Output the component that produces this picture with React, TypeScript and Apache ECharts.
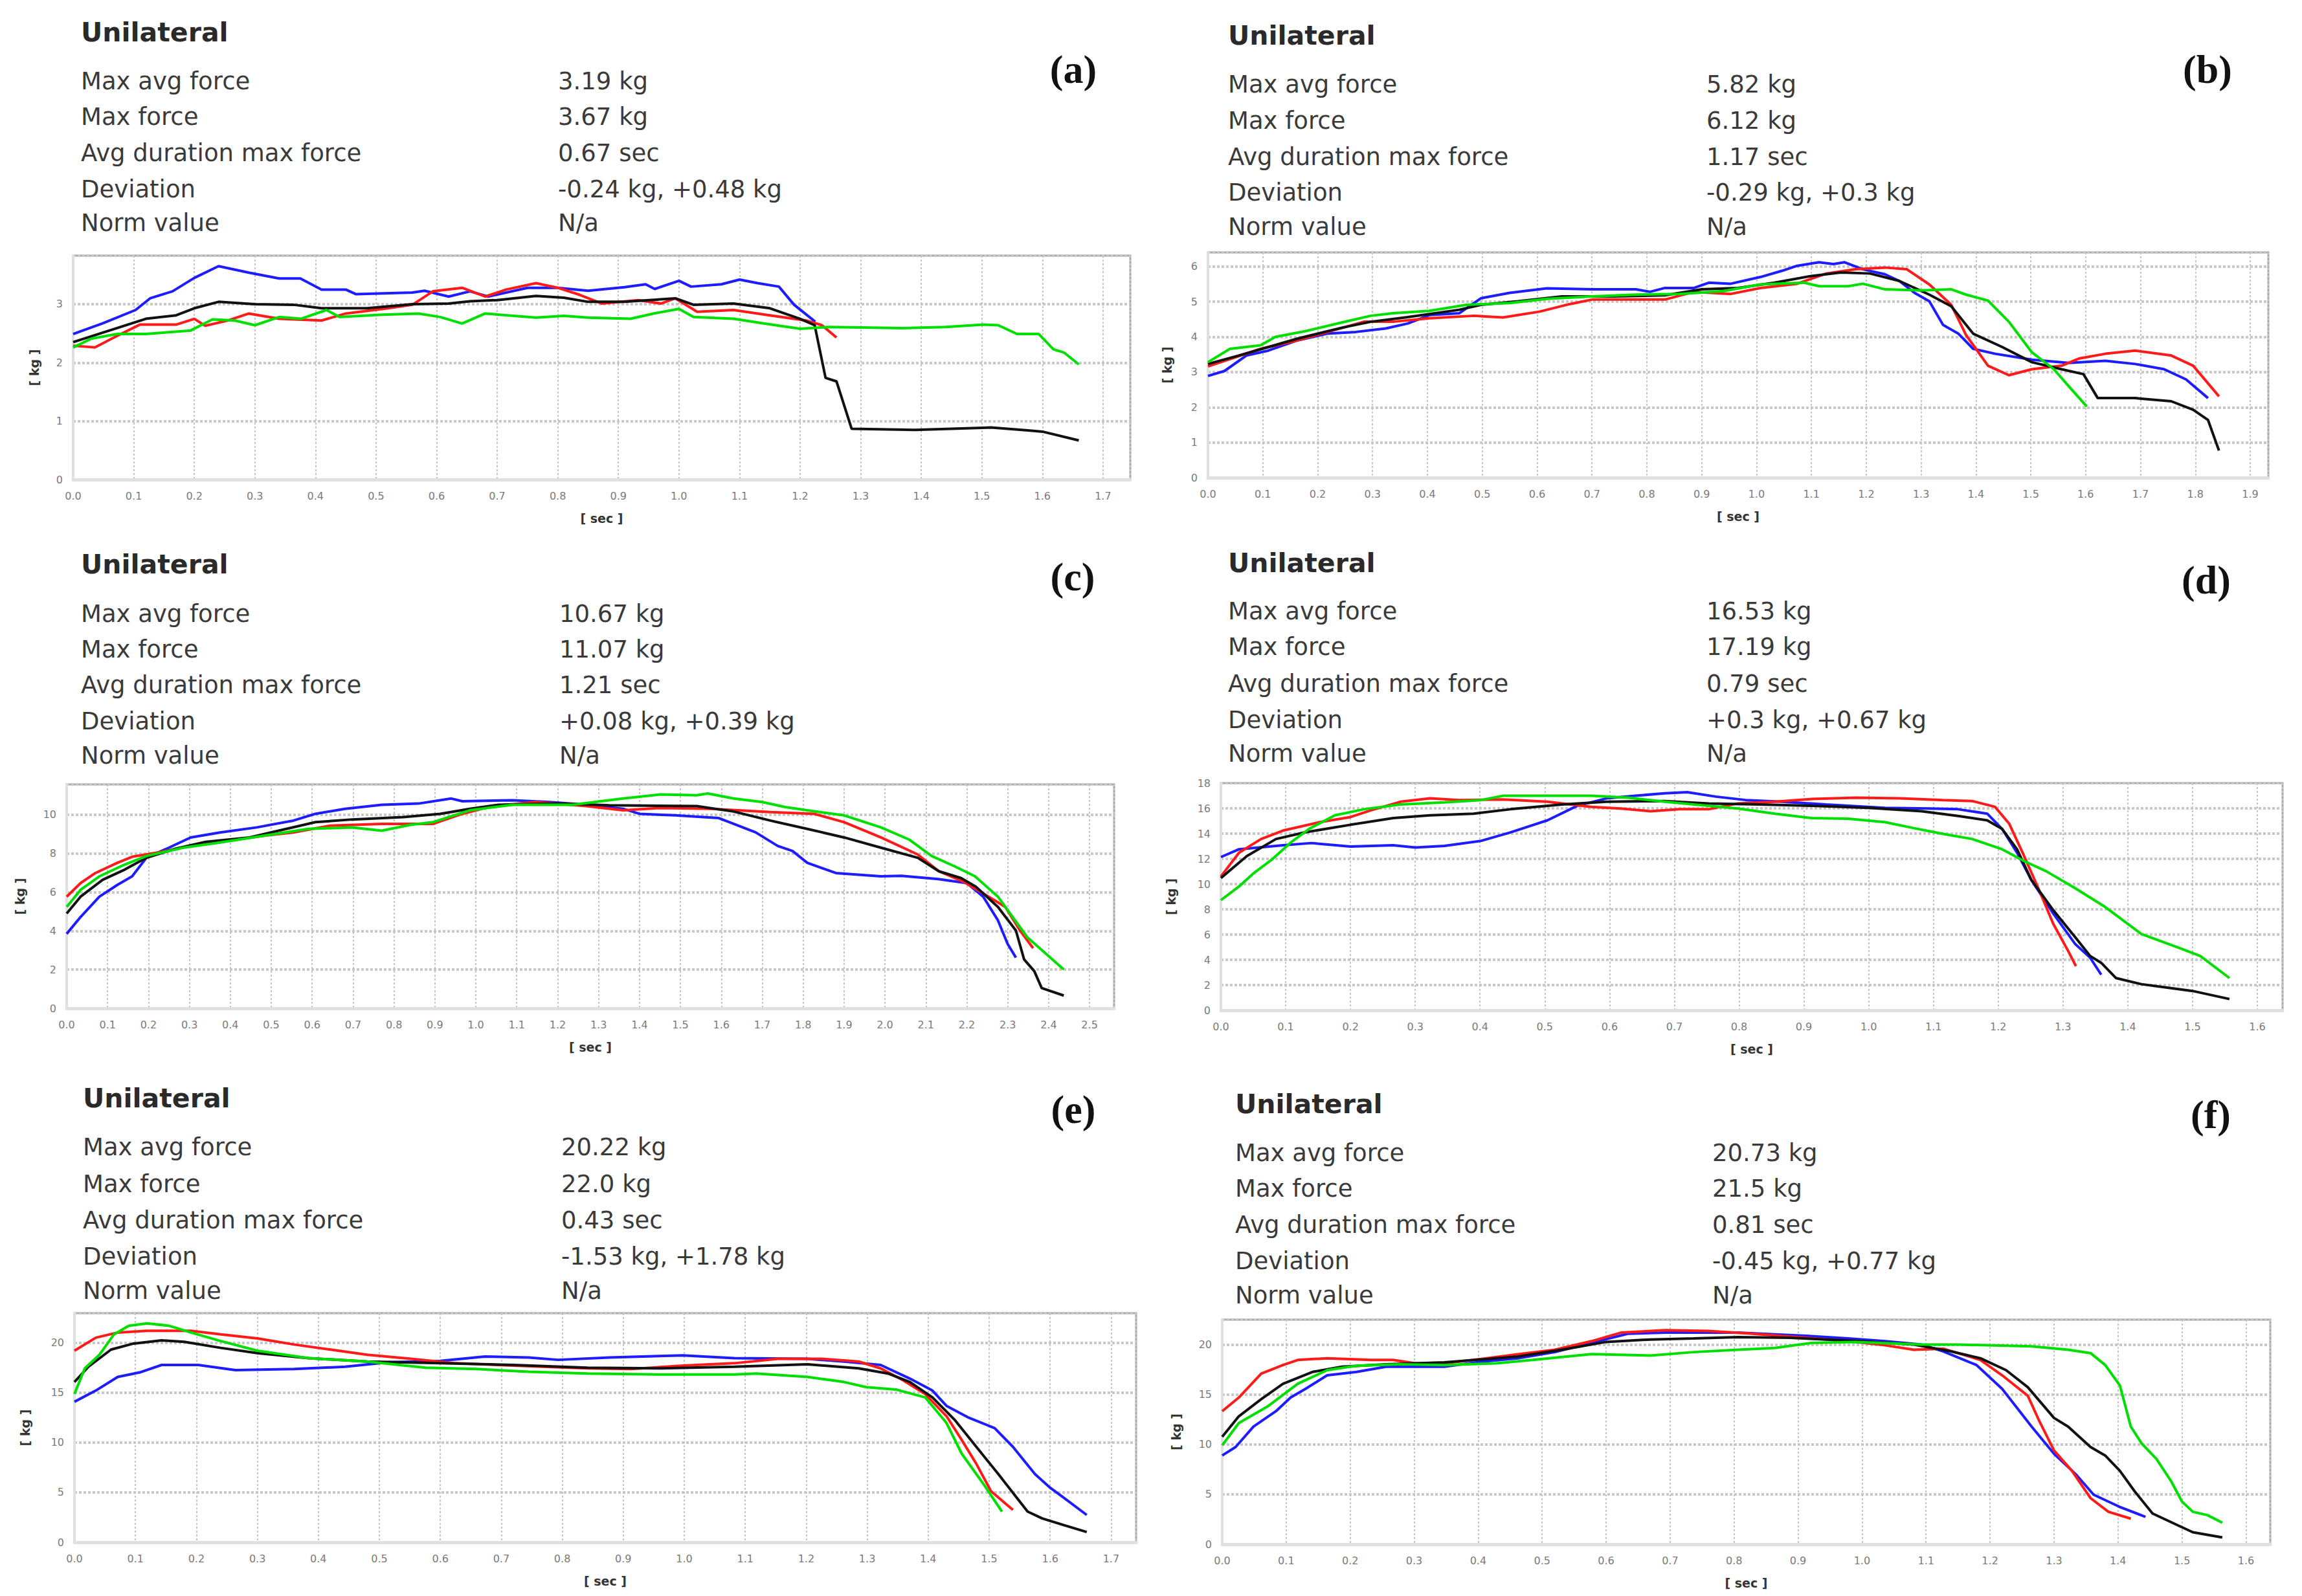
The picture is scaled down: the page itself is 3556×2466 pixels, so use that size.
import { useEffect, useRef } from "react";
import * as echarts from "echarts";

const rowLabels = ["Max avg force", "Max force", "Avg duration max force", "Deviation", "Norm value"];
const panelTags = ["(a)", "(b)", "(c)", "(d)", "(e)", "(f)"];
const panelValues = [
  ["3.19 kg", "3.67 kg", "0.67 sec", "-0.24 kg, +0.48 kg", "N/a"],
  ["5.82 kg", "6.12 kg", "1.17 sec", "-0.29 kg, +0.3 kg", "N/a"],
  ["10.67 kg", "11.07 kg", "1.21 sec", "+0.08 kg, +0.39 kg", "N/a"],
  ["16.53 kg", "17.19 kg", "0.79 sec", "+0.3 kg, +0.67 kg", "N/a"],
  ["20.22 kg", "22.0 kg", "0.43 sec", "-1.53 kg, +1.78 kg", "N/a"],
  ["20.73 kg", "21.5 kg", "0.81 sec", "-0.45 kg, +0.77 kg", "N/a"],
];
const xMax = [1.745, 1.933, 2.56, 1.639, 1.741, 1.638];
const yMax = [3.83, 6.4, 11.57, 18, 22.97, 22.5];
const yStep = [1, 1, 2, 2, 5, 5];

// (a)
const aBlue = [[0,2.49],[0.048,2.67],[0.103,2.9],[0.127,3.1],[0.164,3.22],[0.2,3.45],[0.24,3.65],[0.29,3.54],[0.34,3.44],[0.375,3.44],[0.41,3.25],[0.45,3.25],[0.467,3.17],[0.56,3.2],[0.58,3.23],[0.62,3.13],[0.655,3.22],[0.685,3.13],[0.75,3.28],[0.8,3.28],[0.85,3.23],[0.91,3.29],[0.945,3.34],[0.96,3.26],[1.0,3.4],[1.02,3.3],[1.07,3.34],[1.1,3.42],[1.13,3.36],[1.165,3.3],[1.19,2.99],[1.225,2.7]];
const aRed = [[0,2.29],[0.036,2.26],[0.073,2.46],[0.11,2.65],[0.17,2.65],[0.2,2.75],[0.218,2.63],[0.255,2.72],[0.29,2.84],[0.34,2.75],[0.41,2.72],[0.45,2.84],[0.52,2.93],[0.56,2.99],[0.594,3.22],[0.642,3.28],[0.68,3.13],[0.715,3.25],[0.764,3.36],[0.8,3.28],[0.836,3.16],[0.873,3.01],[0.933,3.07],[0.97,3.01],[0.994,3.1],[1.03,2.87],[1.09,2.9],[1.15,2.81],[1.21,2.72],[1.236,2.64],[1.26,2.43]];
const aBlack = [[0,2.35],[0.06,2.55],[0.12,2.75],[0.17,2.81],[0.2,2.93],[0.24,3.04],[0.3,3.0],[0.364,2.99],[0.41,2.93],[0.485,2.93],[0.56,3.0],[0.62,3.01],[0.655,3.05],[0.7,3.07],[0.764,3.14],[0.81,3.11],[0.85,3.04],[0.91,3.04],[0.994,3.1],[1.024,2.99],[1.09,3.01],[1.15,2.93],[1.2,2.75],[1.224,2.64],[1.242,1.74],[1.26,1.68],[1.285,0.87],[1.39,0.85],[1.515,0.89],[1.576,0.84],[1.6,0.82],[1.66,0.67]];
const aGreen = [[0,2.26],[0.03,2.41],[0.073,2.49],[0.12,2.49],[0.194,2.55],[0.23,2.74],[0.267,2.72],[0.3,2.64],[0.34,2.78],[0.376,2.75],[0.418,2.9],[0.44,2.78],[0.51,2.82],[0.57,2.84],[0.606,2.78],[0.642,2.67],[0.68,2.84],[0.764,2.77],[0.81,2.8],[0.85,2.77],[0.92,2.75],[0.958,2.84],[1.0,2.92],[1.024,2.78],[1.09,2.75],[1.14,2.67],[1.2,2.58],[1.248,2.61],[1.37,2.59],[1.44,2.61],[1.503,2.65],[1.527,2.64],[1.558,2.49],[1.594,2.49],[1.618,2.23],[1.636,2.17],[1.66,1.97]];

// (b)
const bBlue = [[0,2.89],[0.03,3.03],[0.07,3.47],[0.11,3.61],[0.163,3.9],[0.217,4.09],[0.27,4.14],[0.324,4.24],[0.364,4.38],[0.404,4.62],[0.458,4.67],[0.498,5.1],[0.55,5.25],[0.618,5.38],[0.7,5.35],[0.78,5.35],[0.806,5.28],[0.833,5.39],[0.886,5.39],[0.913,5.54],[0.953,5.51],[1.007,5.7],[1.047,5.88],[1.074,6.02],[1.114,6.12],[1.14,6.07],[1.16,6.12],[1.194,5.92],[1.234,5.78],[1.26,5.59],[1.288,5.25],[1.315,5.01],[1.34,4.34],[1.368,4.09],[1.395,3.66],[1.435,3.52],[1.502,3.35],[1.569,3.26],[1.636,3.32],[1.69,3.23],[1.743,3.08],[1.783,2.79],[1.823,2.26]];
const bRed = [[0,3.16],[0.04,3.37],[0.096,3.66],[0.163,3.9],[0.23,4.19],[0.284,4.43],[0.337,4.43],[0.404,4.53],[0.485,4.6],[0.538,4.55],[0.605,4.72],[0.659,4.93],[0.7,5.06],[0.752,5.06],[0.833,5.06],[0.886,5.28],[0.953,5.22],[1.007,5.39],[1.074,5.51],[1.127,5.8],[1.18,5.92],[1.234,5.97],[1.274,5.92],[1.315,5.49],[1.355,4.91],[1.382,4.05],[1.422,3.18],[1.46,2.91],[1.502,3.08],[1.556,3.18],[1.589,3.39],[1.636,3.52],[1.69,3.61],[1.756,3.47],[1.796,3.18],[1.843,2.31]];
const bBlack = [[0,3.23],[0.056,3.47],[0.11,3.71],[0.163,3.95],[0.244,4.26],[0.297,4.43],[0.364,4.56],[0.458,4.77],[0.498,4.91],[0.565,5.01],[0.645,5.15],[0.739,5.15],[0.833,5.18],[0.9,5.35],[0.966,5.39],[1.033,5.54],[1.1,5.73],[1.154,5.83],[1.207,5.8],[1.26,5.59],[1.315,5.2],[1.355,4.87],[1.395,4.09],[1.448,3.71],[1.502,3.28],[1.556,3.08],[1.596,2.94],[1.622,2.26],[1.69,2.26],[1.756,2.17],[1.796,1.93],[1.823,1.64],[1.843,0.77]];
const bGreen = [[0,3.28],[0.04,3.66],[0.096,3.76],[0.123,4.0],[0.177,4.16],[0.244,4.41],[0.297,4.6],[0.337,4.67],[0.404,4.74],[0.471,4.91],[0.55,4.96],[0.618,5.08],[0.7,5.15],[0.78,5.2],[0.86,5.22],[0.94,5.3],[1.007,5.49],[1.087,5.54],[1.114,5.44],[1.167,5.44],[1.194,5.51],[1.234,5.35],[1.3,5.32],[1.355,5.35],[1.382,5.2],[1.422,5.03],[1.46,4.43],[1.502,3.56],[1.542,3.08],[1.569,2.6],[1.602,2.02]];

// (c)
const cBlue = [[0,3.85],[0.034,4.72],[0.08,5.77],[0.124,6.38],[0.16,6.82],[0.195,7.78],[0.25,8.3],[0.303,8.83],[0.375,9.09],[0.465,9.35],[0.554,9.7],[0.608,10.05],[0.68,10.31],[0.77,10.52],[0.86,10.58],[0.94,10.84],[0.967,10.7],[1.09,10.75],[1.18,10.66],[1.27,10.52],[1.36,10.31],[1.4,10.05],[1.487,9.97],[1.594,9.83],[1.684,9.09],[1.738,8.39],[1.774,8.13],[1.81,7.52],[1.88,6.99],[1.99,6.82],[2.04,6.85],[2.13,6.68],[2.2,6.47],[2.24,5.77],[2.276,4.55],[2.3,3.32],[2.32,2.62]];
const cRed = [[0,5.77],[0.034,6.47],[0.07,6.99],[0.124,7.52],[0.16,7.83],[0.23,8.08],[0.303,8.39],[0.375,8.6],[0.482,8.92],[0.554,9.09],[0.644,9.44],[0.77,9.53],[0.895,9.53],[0.967,10.05],[1.04,10.45],[1.146,10.66],[1.27,10.45],[1.36,10.23],[1.45,10.35],[1.576,10.31],[1.72,10.14],[1.827,10.05],[1.9,9.62],[1.99,8.83],[2.08,7.95],[2.132,7.08],[2.19,6.56],[2.24,5.94],[2.294,5.24],[2.33,4.02],[2.362,3.11]];
const cBlack = [[0,4.9],[0.034,5.77],[0.088,6.64],[0.142,7.17],[0.195,7.78],[0.267,8.25],[0.34,8.6],[0.447,8.83],[0.518,9.18],[0.608,9.62],[0.698,9.76],[0.823,9.88],[0.913,10.05],[0.985,10.31],[1.056,10.52],[1.2,10.58],[1.325,10.49],[1.54,10.45],[1.63,10.17],[1.72,9.7],[1.81,9.27],[1.9,8.83],[1.99,8.3],[2.08,7.78],[2.132,7.08],[2.186,6.73],[2.222,6.29],[2.276,5.24],[2.32,4.02],[2.34,2.53],[2.365,1.92],[2.383,1.05],[2.437,0.66]];
const cGreen = [[0,5.24],[0.034,6.12],[0.08,6.82],[0.142,7.43],[0.195,7.87],[0.285,8.3],[0.375,8.57],[0.482,8.92],[0.59,9.27],[0.698,9.35],[0.77,9.18],[0.84,9.48],[0.895,9.62],[0.985,10.23],[1.09,10.52],[1.236,10.52],[1.36,10.84],[1.45,11.05],[1.54,11.01],[1.567,11.1],[1.63,10.84],[1.7,10.66],[1.756,10.4],[1.81,10.23],[1.9,9.97],[1.99,9.35],[2.06,8.71],[2.114,7.87],[2.17,7.34],[2.22,6.82],[2.276,5.77],[2.348,3.67],[2.437,2.01]];

// (d)
const dBlue = [[0,12.14],[0.028,12.76],[0.096,13.08],[0.14,13.25],[0.2,12.98],[0.266,13.08],[0.3,12.9],[0.345,13.03],[0.402,13.43],[0.447,14.1],[0.504,15.05],[0.55,16.2],[0.595,16.79],[0.64,17.0],[0.685,17.19],[0.72,17.28],[0.764,16.93],[0.81,16.66],[0.866,16.52],[0.934,16.31],[1.025,16.04],[1.093,15.99],[1.138,15.93],[1.183,15.58],[1.206,14.37],[1.229,12.49],[1.251,10.34],[1.285,7.66],[1.319,5.24],[1.342,4.16],[1.359,2.82]];
const dRed = [[0,10.61],[0.028,12.49],[0.062,13.57],[0.096,14.24],[0.153,14.91],[0.2,15.31],[0.232,15.85],[0.277,16.52],[0.323,16.79],[0.368,16.66],[0.436,16.71],[0.504,16.52],[0.572,16.12],[0.617,15.99],[0.663,15.77],[0.708,15.93],[0.753,15.93],[0.798,16.39],[0.855,16.52],[0.912,16.74],[0.98,16.85],[1.048,16.79],[1.115,16.66],[1.16,16.58],[1.195,16.12],[1.217,14.78],[1.24,12.22],[1.263,9.54],[1.285,6.85],[1.308,4.7],[1.32,3.49]];
const dBlack = [[0,10.48],[0.04,12.22],[0.085,13.57],[0.13,14.1],[0.2,14.7],[0.266,15.23],[0.323,15.45],[0.39,15.58],[0.447,15.93],[0.527,16.31],[0.595,16.52],[0.685,16.58],[0.753,16.39],[0.832,16.31],[0.912,16.2],[1.0,16.04],[1.082,15.77],[1.138,15.4],[1.183,15.05],[1.206,14.37],[1.229,12.76],[1.251,10.34],[1.285,7.93],[1.319,5.78],[1.342,4.3],[1.359,3.76],[1.382,2.55],[1.421,2.07],[1.5,1.53],[1.557,0.89]];
const dGreen = [[0,8.73],[0.028,9.81],[0.051,10.88],[0.079,11.96],[0.108,13.3],[0.136,14.37],[0.176,15.45],[0.221,15.93],[0.277,16.31],[0.345,16.47],[0.402,16.66],[0.436,17.0],[0.504,17.0],[0.572,17.0],[0.629,16.85],[0.685,16.52],[0.742,16.25],[0.798,15.99],[0.855,15.58],[0.912,15.23],[0.968,15.18],[1.025,14.91],[1.07,14.43],[1.115,13.97],[1.16,13.57],[1.206,12.76],[1.24,11.82],[1.274,11.02],[1.319,9.67],[1.365,8.19],[1.421,6.05],[1.478,4.97],[1.512,4.3],[1.557,2.55]];

// (e)
const eBlue = [[0,14.09],[0.035,15.21],[0.071,16.58],[0.107,17.03],[0.143,17.78],[0.203,17.78],[0.264,17.26],[0.36,17.37],[0.444,17.6],[0.516,18.05],[0.6,18.19],[0.673,18.63],[0.745,18.53],[0.793,18.29],[0.877,18.53],[0.998,18.74],[1.082,18.46],[1.202,18.39],[1.262,18.12],[1.322,17.78],[1.37,16.41],[1.407,15.21],[1.43,13.68],[1.467,12.48],[1.509,11.45],[1.539,9.57],[1.575,6.84],[1.6,5.47],[1.623,4.44],[1.66,2.74]];
const eRed = [[0,19.21],[0.035,20.51],[0.071,21.03],[0.119,21.2],[0.191,21.2],[0.24,20.85],[0.3,20.44],[0.36,19.83],[0.42,19.32],[0.48,18.8],[0.552,18.39],[0.625,17.95],[0.72,17.71],[0.841,17.44],[0.913,17.37],[0.998,17.71],[1.082,17.95],[1.154,18.39],[1.226,18.39],[1.286,18.12],[1.322,17.44],[1.359,16.24],[1.395,14.87],[1.43,12.65],[1.455,10.26],[1.479,7.86],[1.503,5.13],[1.539,3.25]];
const eBlack = [[0,16.07],[0.023,17.6],[0.06,19.32],[0.095,19.9],[0.143,20.24],[0.18,20.1],[0.24,19.49],[0.3,18.97],[0.384,18.46],[0.48,18.12],[0.6,17.95],[0.72,17.78],[0.841,17.5],[0.962,17.44],[1.082,17.6],[1.202,17.85],[1.286,17.44],[1.334,16.92],[1.37,16.07],[1.407,14.53],[1.443,12.31],[1.479,9.57],[1.515,6.84],[1.563,3.08],[1.587,2.39],[1.623,1.71],[1.66,1.03]];
const eGreen = [[0,14.87],[0.017,17.44],[0.041,18.8],[0.065,20.85],[0.089,21.71],[0.119,21.95],[0.155,21.71],[0.191,21.03],[0.24,20.17],[0.3,19.21],[0.384,18.46],[0.48,18.12],[0.576,17.5],[0.66,17.37],[0.745,17.09],[0.841,16.92],[0.962,16.82],[1.082,16.82],[1.118,16.92],[1.202,16.58],[1.262,16.07],[1.298,15.56],[1.347,15.32],[1.395,14.53],[1.43,11.97],[1.455,8.89],[1.491,5.81],[1.521,3.08]];

// (f)
const fBlue = [[0,8.89],[0.021,9.74],[0.049,11.79],[0.084,13.33],[0.107,14.7],[0.13,15.56],[0.164,16.92],[0.21,17.26],[0.256,17.78],[0.302,17.78],[0.347,17.78],[0.405,18.29],[0.462,18.63],[0.52,19.25],[0.577,20.17],[0.634,21.09],[0.692,21.2],[0.749,21.2],[0.806,21.2],[0.864,21.03],[0.921,20.85],[0.978,20.62],[1.036,20.34],[1.093,20.0],[1.127,19.32],[1.179,17.95],[1.219,15.56],[1.265,11.79],[1.3,9.06],[1.334,7.01],[1.362,4.96],[1.402,3.76],[1.443,2.74]];
const fRed = [[0,13.33],[0.026,14.7],[0.061,17.09],[0.095,17.95],[0.118,18.46],[0.164,18.63],[0.233,18.46],[0.267,18.46],[0.302,18.12],[0.347,18.12],[0.405,18.56],[0.462,19.04],[0.52,19.49],[0.577,20.34],[0.623,21.2],[0.692,21.44],[0.76,21.37],[0.829,21.09],[0.898,20.75],[0.978,20.34],[1.036,19.93],[1.081,19.49],[1.127,19.59],[1.185,18.46],[1.219,16.92],[1.259,14.87],[1.276,12.48],[1.3,9.4],[1.328,7.35],[1.357,4.62],[1.385,3.25],[1.42,2.56]];
const fBlack = [[0,10.77],[0.026,12.82],[0.061,14.53],[0.095,16.07],[0.141,17.26],[0.187,17.78],[0.256,18.02],[0.347,18.22],[0.462,18.8],[0.531,19.49],[0.6,20.27],[0.669,20.51],[0.737,20.62],[0.806,20.75],[0.886,20.68],[0.978,20.41],[1.081,20.0],[1.139,19.32],[1.185,18.63],[1.225,17.44],[1.259,15.73],[1.3,12.65],[1.322,11.79],[1.357,9.74],[1.38,8.89],[1.403,7.35],[1.426,5.3],[1.454,3.08],[1.494,1.88],[1.517,1.2],[1.563,0.68]];
const fGreen = [[0,9.91],[0.026,12.14],[0.072,13.85],[0.118,16.07],[0.164,17.44],[0.21,17.88],[0.279,18.02],[0.347,17.95],[0.428,18.12],[0.485,18.46],[0.577,19.04],[0.669,18.9],[0.737,19.25],[0.806,19.49],[0.864,19.66],[0.921,20.17],[0.99,20.27],[1.093,20.0],[1.15,20.0],[1.265,19.83],[1.322,19.49],[1.357,19.15],[1.38,17.95],[1.403,15.9],[1.42,11.79],[1.437,10.09],[1.46,8.55],[1.483,6.32],[1.5,4.27],[1.517,3.25],[1.54,2.91],[1.563,2.15]];

const panelSeries = [
  [aBlue, aRed, aBlack, aGreen],
  [bBlue, bRed, bBlack, bGreen],
  [cBlue, cRed, cBlack, cGreen],
  [dBlue, dRed, dBlack, dGreen],
  [eBlue, eRed, eBlack, eGreen],
  [fBlue, fRed, fBlack, fGreen],
];
const seriesColors = ["#1c1cff", "#ff1a1a", "#111111", "#00e000"];

// page positions (px) of each panel
const layout = [
  { l: 113, t: 395, r: 1746, b: 741, tx: 125, vx: 862, ty: 50, rows: [125, 180, 236, 292, 344], gx: 1658, gy: 107, kg: 51 },
  { l: 1866, t: 390, r: 3504, b: 738, tx: 1897, vx: 2636, ty: 55, rows: [130, 186, 242, 297, 350], gx: 3410, gy: 107, kg: 54 },
  { l: 103, t: 1212, r: 1721, b: 1558, tx: 125, vx: 864, ty: 872, rows: [948, 1003, 1058, 1114, 1167], gx: 1657, gy: 891, kg: 63 },
  { l: 1886, t: 1210, r: 3526, b: 1561, tx: 1897, vx: 2636, ty: 870, rows: [944, 999, 1056, 1112, 1164], gx: 3408, gy: 896, kg: 68 },
  { l: 115, t: 2029, r: 1755, b: 2383, tx: 128, vx: 867, ty: 1697, rows: [1772, 1829, 1885, 1941, 1994], gx: 1658, gy: 1714, kg: 67 },
  { l: 1888, t: 2039, r: 3507, b: 2386, tx: 1908, vx: 2645, ty: 1706, rows: [1781, 1836, 1892, 1948, 2001], gx: 3415, gy: 1722, kg: 62 },
];

const txt = (text: string, x: number, y: number, font: string, fill: string, align = "left") => ({
  type: "text",
  silent: true,
  style: { text, x, y, font, fill, align, verticalAlign: "middle", textAlign: align, textVerticalAlign: "middle" },
});

const App = () => {
  const chartRef = useRef<HTMLDivElement>(null);

  useEffect(() => {
    if (!chartRef.current) return;
    const chart = echarts.init(chartRef.current, null, { renderer: "svg" });

    const grids: any[] = [];
    const xAxes: any[] = [];
    const yAxes: any[] = [];
    const series: any[] = [];
    const graphics: any[] = [];

    layout.forEach((p, i) => {
      grids.push({
        left: p.l,
        top: p.t,
        width: p.r - p.l,
        height: p.b - p.t,
        show: true,
        borderColor: "#a9a9a9",
        borderWidth: 3,
        backgroundColor: "#ffffff",
      });
      xAxes.push({
        type: "value",
        gridIndex: i,
        min: 0,
        max: xMax[i],
        interval: 0.1,
        offset: 10,
        name: "[ sec ]",
        nameLocation: "middle",
        nameGap: 40,
        nameTextStyle: { fontFamily: "DejaVu Sans", fontSize: 19, fontWeight: "bold", color: "#333" },
        axisLine: { show: true, lineStyle: { color: "#e0e0e0", width: 5 } },
        axisTick: { show: false },
        axisLabel: {
          showMaxLabel: false,
          margin: 7,
          fontFamily: "DejaVu Sans",
          fontSize: 16,
          color: "#7a7a7a",
          formatter: (v: number) => v.toFixed(1),
        },
        splitLine: { show: true, lineStyle: { color: "#c4c4c4", width: 2, type: [3, 3] } },
      });
      yAxes.push({
        type: "value",
        gridIndex: i,
        min: 0,
        max: yMax[i],
        interval: yStep[i],
        offset: 8,
        name: "[ kg ]",
        nameLocation: "middle",
        nameRotate: 90,
        nameGap: p.kg - 8,
        nameTextStyle: { fontFamily: "DejaVu Sans", fontSize: 19, fontWeight: "bold", color: "#333" },
        axisLine: { show: true, lineStyle: { color: "#e0e0e0", width: 4 } },
        axisTick: { show: false },
        axisLabel: {
          showMaxLabel: yMax[i] % yStep[i] === 0,
          margin: 8,
          fontFamily: "DejaVu Sans",
          fontSize: 16,
          color: "#7a7a7a",
        },
        splitLine: { show: true, lineStyle: { color: "#c8c8c8", width: 4, type: [4, 3] } },
      });
      panelSeries[i].forEach((data, k) => {
        series.push({
          type: "line",
          xAxisIndex: i,
          yAxisIndex: i,
          data,
          showSymbol: false,
          symbol: "none",
          silent: true,
          z: 3 + k,
          lineStyle: { color: seriesColors[k], width: 4 },
          itemStyle: { color: seriesColors[k] },
        });
      });

      graphics.push(txt("Unilateral", p.tx, p.ty, 'bold 41px "DejaVu Sans"', "#2a2a2a"));
      rowLabels.forEach((lab, r) => {
        graphics.push(txt(lab, p.tx, p.rows[r], '37px "DejaVu Sans"', "#3a3a3a"));
        graphics.push(txt(panelValues[i][r], p.vx, p.rows[r], '37px "DejaVu Sans"', "#3a3a3a"));
      });
      graphics.push(txt(panelTags[i], p.gx, p.gy, 'bold 62px "Liberation Serif"', "#111", "center"));
    });

    chart.setOption({
      animation: false,
      backgroundColor: "#ffffff",
      grid: grids,
      xAxis: xAxes,
      yAxis: yAxes,
      series,
      graphic: graphics,
    });

    return () => {
      chart.dispose();
    };
  }, []);

  return (
    <div
      ref={chartRef}
      style={{ position: "absolute", left: 0, top: 0, width: "3556px", height: "2466px" }}
    ></div>
  );
};

export default App;
